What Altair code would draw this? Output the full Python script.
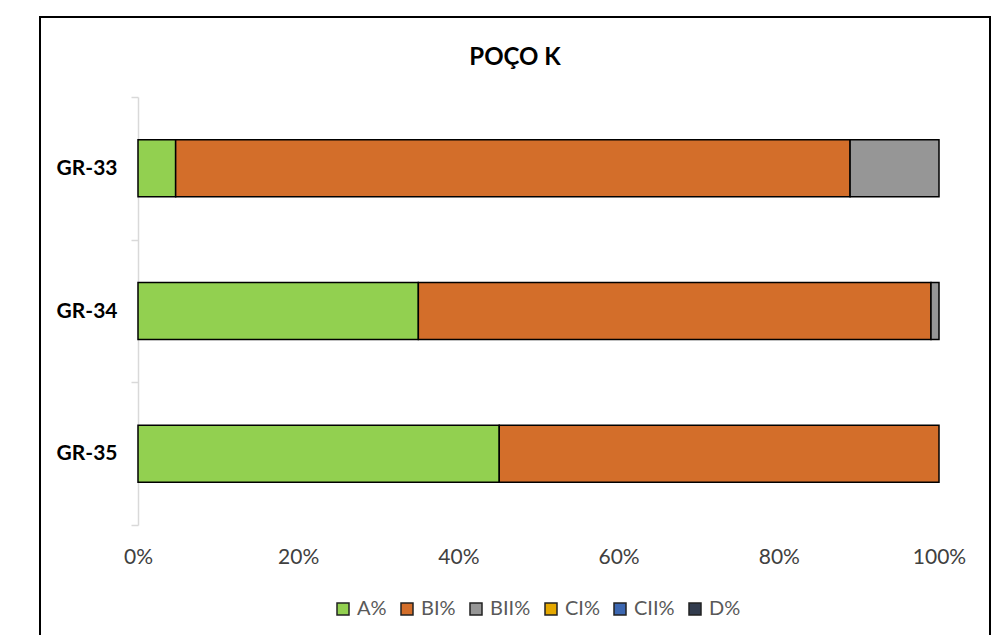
import altair as alt
import pandas as pd

# Percentage of each class per sample in well K
amostras = ["GR-33", "GR-34", "GR-35"]
classes = ["A%", "BI%", "BII%", "CI%", "CII%", "D%"]
cores = ["#92D050", "#D36E2A", "#969696", "#E5A800", "#3C67B1", "#323C4E"]

a_pct = [4.7, 35.0, 45.1]
bi_pct = [84.2, 64.0, 54.9]
bii_pct = [11.1, 1.0, 0.0]
ci_pct = [0.0, 0.0, 0.0]
cii_pct = [0.0, 0.0, 0.0]
d_pct = [0.0, 0.0, 0.0]

titulo = "POÇO K"

series = [a_pct, bi_pct, bii_pct, ci_pct, cii_pct, d_pct]
rows = []
for ordem, (classe, valores) in enumerate(zip(classes, series)):
    for amostra, v in zip(amostras, valores):
        if v > 0:
            rows.append({"amostra": amostra, "classe": classe, "valor": v, "ordem": ordem})
df = pd.DataFrame(rows)

FONT = "Lato"

bars = alt.Chart(df).mark_bar(stroke="black", strokeWidth=1.5, size=57).encode(
    y=alt.Y(
        "amostra:N",
        title=None,
        scale=alt.Scale(paddingInner=0, paddingOuter=0),
        axis=alt.Axis(
            tickBand="extent",
            domainColor="#d9d9d9",
            tickColor="#d9d9d9",
            tickSize=7,
            domainWidth=1.5,
            tickWidth=1.5,
            labelFont=FONT,
            labelFontSize=21,
            labelFontWeight="bold",
            labelColor="#000000",
            labelPadding=14,
        ),
    ),
    x=alt.X(
        "valor:Q",
        stack="normalize",
        title=None,
        scale=alt.Scale(domain=[0, 1], nice=False),
        axis=alt.Axis(
            format=".0%",
            values=[0, 0.2, 0.4, 0.6, 0.8, 1.0],
            grid=False,
            domain=False,
            ticks=False,
            labelFlush=False,
            labelFont=FONT,
            labelFontSize=21,
            labelColor="#404040",
            labelPadding=21,
        ),
    ),
    color=alt.Color(
        "classe:N",
        scale=alt.Scale(domain=classes, range=cores),
        sort=classes,
        legend=alt.Legend(
            title=None,
            orient="none",
            direction="horizontal",
            legendX=195,
            legendY=502,
            symbolType="square",
            symbolSize=144,
            symbolStrokeColor="#222222",
            symbolStrokeWidth=1.5,
            symbolOpacity=1,
            labelFont=FONT,
            labelFontSize=20,
            labelColor="#595959",
            labelOffset=4,
            columnPadding=10,
        ),
    ),
    order=alt.Order("ordem:Q"),
)

# Chart title, centred over the framed area
title = alt.Chart(pd.DataFrame({"t": [titulo]})).mark_text(
    font=FONT, fontSize=24, fontWeight="bold", color="#000000",
    align="center", baseline="alphabetic",
).encode(text="t:N", x=alt.value(377), y=alt.value(-32))

# Outer frame drawn around the whole chart
frame = alt.Chart(pd.DataFrame({"k": [0]})).mark_rect(
    fill=None, stroke="black", strokeWidth=2
).encode(
    x=alt.value(-98), x2=alt.value(852), y=alt.value(-80), y2=alt.value(560)
)

chart = (
    alt.layer(bars, title, frame)
    .properties(
        width=801,
        height=428,
        autosize=alt.AutoSizeParams(type="none"),
        padding={"left": 138, "top": 97, "right": 66, "bottom": 110},
    )
    .configure(background="white")
    .configure_view(strokeWidth=0, stroke="transparent")
)

chart.save("out.html", embed_options={"renderer": "svg", "actions": False})
